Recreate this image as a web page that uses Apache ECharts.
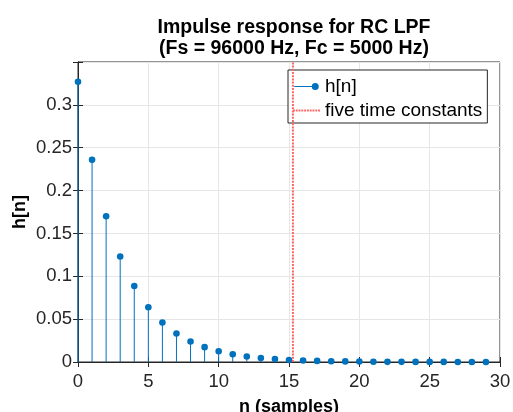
<!DOCTYPE html>
<html><head><meta charset="utf-8">
<script src="https://cdn.jsdelivr.net/npm/echarts@6/dist/echarts.min.js"></script>
<style>html,body{margin:0;padding:0;background:#fff}#c{width:513px;height:412px}</style>
</head><body><div id="c"></div>
<script>
const n = [0,1,2,3,4,5,6,7,8,9,10,11,12,13,14,15,16,17,18,19,20,21,22,23,24,25,26,27,28,29];
const h = [0.327,0.236,0.170,0.123,0.0886,0.0639,0.0461,0.0332,0.0240,0.0173,0.0125,0.0090,0.0065,0.0047,0.0034,0.0024,0.0018,0.0013,0.0009,0.0007,0.0005,0.0003,0.0002,0.0002,0.0001,0.0001,0.0001,0.00005,0.00004,0.00003];
const fiveTau = 15.28;
const titleLines = ['Impulse response for RC LPF','(Fs = 96000 Hz, Fc = 5000 Hz)'];
const legendNames = ['h[n]','five time constants'];

const FONT = 'Liberation Sans, Arial, Helvetica, sans-serif';
const BLUE = '#0072BD';
const RED = '#FF6464';
const AX = '#262626';
const chart = echarts.init(document.getElementById('c'), null, {renderer:'canvas'});
const stemData = n.map((v,i)=>[v,h[i]]);
const axisCommon = {
  axisLine:{show:true,lineStyle:{color:AX,width:1}},
  axisTick:{show:true,inside:true,length:5,lineStyle:{color:AX}},
};
// legend icons
const stemIcon = 'path://M0,3 L20,3 L20,4 L0,4 Z M16.5,3.5 A3.3,3.3 0 1,1 23.1,3.5 A3.3,3.3 0 1,1 16.5,3.5 Z';
let dots = '';
for (let x = 0; x < 28; x += 3) dots += 'M' + x.toFixed(1) + ',0 h2 v2 h-2 Z ';
const dotIcon = 'path://' + dots.trim();

chart.setOption({
  animation:false,
  backgroundColor:'#fff',
  title:{text:titleLines.join('\n'),left:289,top:12,textAlign:'center',
    textStyle:{fontFamily:FONT,fontSize:19.5,fontWeight:'bold',color:'#000',lineHeight:21}},
  grid:{left:78,right:13,top:62,bottom:50,show:true,borderColor:AX,borderWidth:1,
    backgroundColor:'transparent',containLabel:false,outerBoundsMode:'none'},
  legend:{
    data:[{name:legendNames[0],icon:stemIcon},{name:legendNames[1],icon:dotIcon}],
    orient:'vertical',left:288,top:70,itemGap:5,itemWidth:27,itemHeight:7,
    backgroundColor:'#fff',borderColor:AX,borderWidth:1,borderRadius:0,padding:[7,5,3,5],
    itemStyle:{borderWidth:0},
    textStyle:{fontFamily:FONT,fontSize:19,lineHeight:18,color:'#000'}
  },
  xAxis:[
    Object.assign({type:'value',min:0,max:30,interval:5,position:'bottom',
      name:'n (samples)',nameLocation:'middle',nameGap:36,nameMoveOverlap:false,
      nameTextStyle:{fontFamily:FONT,fontSize:18,fontWeight:'bold',color:'#000'},
      axisLabel:{fontFamily:FONT,fontSize:18.5,color:AX,margin:10},
      splitLine:{show:true,lineStyle:{color:'#e6e6e6',width:1}}},axisCommon),
    Object.assign({type:'value',min:0,max:30,interval:5,position:'top',
      axisLabel:{show:false},splitLine:{show:false}},axisCommon)
  ],
  yAxis:[
    Object.assign({type:'value',min:0,max:0.35,interval:0.05,position:'left',
      name:'h[n]',nameLocation:'middle',nameGap:49,nameMoveOverlap:false,
      nameTextStyle:{fontFamily:FONT,fontSize:18,fontWeight:'bold',color:'#000'},
      axisLabel:{fontFamily:FONT,fontSize:18.5,color:AX,margin:6,
        formatter:v=> (Math.abs(v-0.35)<1e-9)?'':String(+v.toFixed(2))},
      splitLine:{show:true,lineStyle:{color:'#e6e6e6',width:1}}},axisCommon),
    Object.assign({type:'value',min:0,max:0.35,interval:0.05,position:'right',
      axisLabel:{show:false},splitLine:{show:false}},axisCommon)
  ],
  series:[
    {type:'custom',name:'stems',xAxisIndex:0,yAxisIndex:0,data:stemData,z:3,
      renderItem:function(params,api){
        const p=api.coord([api.value(0),api.value(1)]);
        const b=api.coord([api.value(0),0]);
        return {type:'group',children:[
          {type:'line',shape:{x1:p[0],y1:p[1],x2:b[0],y2:b[1]},style:{stroke:BLUE,lineWidth:1}},
          {type:'circle',shape:{cx:p[0],cy:p[1],r:3.3},style:{fill:BLUE}}
        ]};
      }},
    {type:'line',name:legendNames[0],data:[],symbol:'circle',symbolSize:7,
      itemStyle:{color:BLUE},lineStyle:{color:BLUE,width:1}},
    {type:'line',name:legendNames[1],data:[[fiveTau,0],[fiveTau,0.35]],symbol:'none',z:4,
      itemStyle:{color:RED},lineStyle:{color:RED,width:2,type:[2,1.2]}}
  ]
});
</script></body></html>
